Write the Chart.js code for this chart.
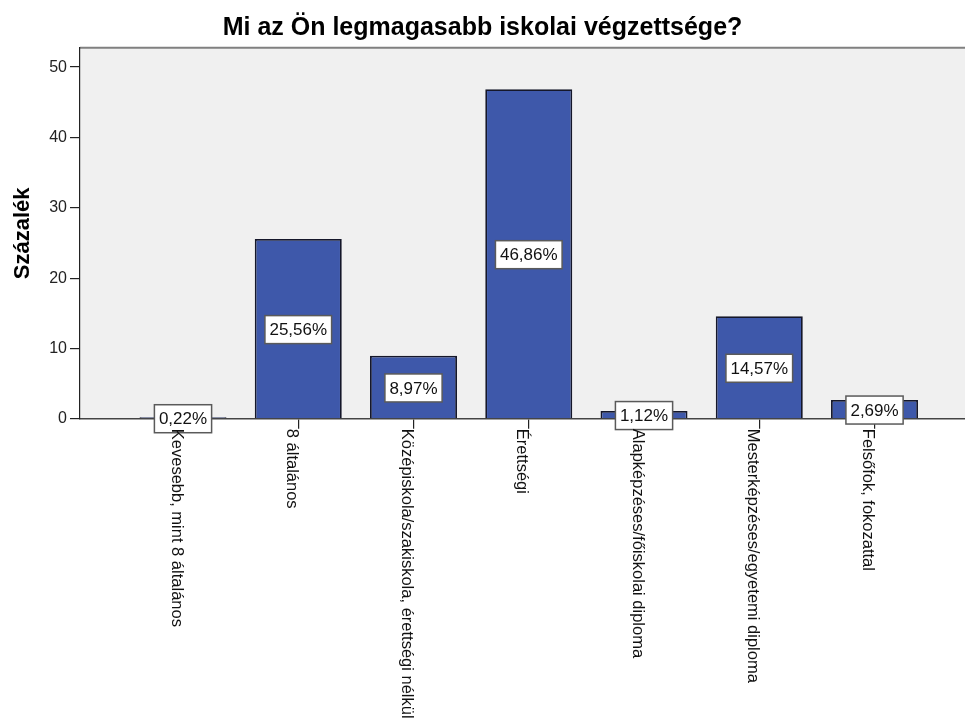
<!DOCTYPE html>
<html>
<head>
<meta charset="utf-8">
<title>Iskolai végzettség</title>
<script src="https://cdn.jsdelivr.net/npm/chart.js@4.4.1/dist/chart.umd.min.js"></script>
<style>
    html, body { margin: 0; padding: 0; background: #fff; }
    #reportChart { display: block; }
</style>
</head>
<body>
<canvas id="reportChart" width="965" height="724"></canvas>
<script>
var title = 'Mi az Ön legmagasabb iskolai végzettsége?';
var yTitle = 'Százalék';

var categories = [
    'Kevesebb, mint 8 általános',
    '8 általános',
    'Középiskola/szakiskola, érettségi nélkül',
    'Érettségi',
    'Alapképzéses/főiskolai diploma',
    'Mesterképzéses/egyetemi diploma',
    'Felsőfok, fokozattal'
];
var percents = [0.22, 25.56, 8.97, 46.86, 1.12, 14.57, 2.69];
var yTicks = [0, 10, 20, 30, 40, 50];

var FONT = "'Liberation Sans', Arial, sans-serif";
Chart.defaults.font.family = FONT;
Chart.defaults.color = '#111';

// háttér + felső keret a rajzterületen
var plotBackground = {
    id: 'plotBackground',
    beforeDraw: function (chart) {
        var a = chart.chartArea, ctx = chart.ctx;
        ctx.save();
        ctx.fillStyle = '#f0f0f0';
        ctx.fillRect(a.left, a.top, a.right - a.left, a.bottom - a.top);
        ctx.strokeStyle = '#808080';
        ctx.lineWidth = 2;
        ctx.beginPath();
        ctx.moveTo(a.left, a.top);
        ctx.lineTo(a.right, a.top);
        ctx.stroke();
        ctx.restore();
    }
};

// százalék címkék fehér dobozban az oszlop közepén
var valueBoxes = {
    id: 'valueBoxes',
    afterDatasetsDraw: function (chart) {
        var ctx = chart.ctx;
        var meta = chart.getDatasetMeta(0);
        ctx.save();
        ctx.font = '17px ' + FONT;
        ctx.textAlign = 'center';
        ctx.textBaseline = 'middle';
        for (var i = 0; i < meta.data.length; i++) {
            var bar = meta.data[i];
            var txt = percents[i].toFixed(2).replace('.', ',') + '%';
            var w = ctx.measureText(txt).width + 9;
            var h = 28;
            var cy = (bar.y + bar.base) / 2 + 1;
            ctx.fillStyle = '#fff';
            ctx.fillRect(bar.x - w / 2, cy - h / 2, w, h);
            ctx.strokeStyle = '#5a5a5a';
            ctx.lineWidth = 1.5;
            ctx.strokeRect(bar.x - w / 2, cy - h / 2, w, h);
            ctx.fillStyle = '#111';
            ctx.fillText(txt, bar.x, cy + 1);
        }
        ctx.restore();
    }
};

// kategória feliratok, 90 fokkal elforgatva (fentről lefelé olvasva)
var categoryLabels = {
    id: 'categoryLabels',
    afterDraw: function (chart) {
        var ctx = chart.ctx;
        var xs = chart.scales.x;
        var top = chart.chartArea.bottom + 10;
        ctx.save();
        ctx.font = '16.5px ' + FONT;
        ctx.fillStyle = '#111';
        ctx.textAlign = 'left';
        ctx.textBaseline = 'alphabetic';
        for (var i = 0; i < categories.length; i++) {
            var x = xs.getPixelForValue(i);
            ctx.save();
            ctx.translate(x, top);
            ctx.rotate(Math.PI / 2);
            ctx.fillText(categories[i], 0, 11.5);
            ctx.restore();
        }
        ctx.restore();
    }
};

function RenderReport() {
    var points = [];
    for (var i = 0; i < percents.length; i++) {
        points.push({ x: i, y: percents[i] });
    }

    var ctx = document.getElementById('reportChart').getContext('2d');
    new Chart(ctx, {
        type: 'bar',
        data: {
            datasets: [{
                label: yTitle,
                data: points,
                backgroundColor: '#3e58aa',
                borderColor: '#15172a',
                borderWidth: 1.8,
                barPercentage: 0.755,
                categoryPercentage: 1
            }]
        },
        options: {
            responsive: false,
            animation: false,
            devicePixelRatio: 1,
            layout: { padding: 0 },
            plugins: {
                legend: { display: false },
                tooltip: { enabled: false },
                title: {
                    display: true,
                    text: title,
                    color: '#000',
                    font: { size: 25, weight: 'bold', lineHeight: 1.15 },
                    padding: { top: 14, bottom: 5 }
                }
            },
            scales: {
                x: {
                    type: 'linear',
                    min: -0.8937,
                    max: 6.785,
                    offset: false,
                    grid: {
                        offset: false,
                        drawOnChartArea: false,
                        drawTicks: true,
                        tickLength: 10,
                        color: '#222',
                        lineWidth: 1.2
                    },
                    border: { color: '#444', width: 1.5 },
                    ticks: {
                        callback: function () { return ''; },
                        maxRotation: 0
                    },
                    afterBuildTicks: function (scale) {
                        scale.ticks = categories.map(function (c, i) { return { value: i }; });
                    },
                    afterFit: function (scale) {
                        scale.height = 724 - 418.8;
                    }
                },
                y: {
                    min: 0,
                    max: 52.75,
                    grid: {
                        drawOnChartArea: false,
                        drawTicks: true,
                        tickLength: 10,
                        color: '#222',
                        lineWidth: 1.2
                    },
                    border: { color: '#222', width: 1.2 },
                    ticks: {
                        stepSize: 10,
                        includeBounds: false,
                        padding: 3,
                        color: '#222',
                        font: { size: 16 }
                    },
                    afterBuildTicks: function (scale) {
                        scale.ticks = yTicks.map(function (v) { return { value: v }; });
                    },
                    title: {
                        display: true,
                        text: yTitle,
                        color: '#000',
                        font: { size: 22, weight: 'bold', lineHeight: 1.2 },
                        padding: { top: 10, bottom: 0 }
                    },
                    afterFit: function (scale) {
                        scale.width = 80;
                    }
                }
            }
        },
        plugins: [plotBackground, valueBoxes, categoryLabels]
    });
}

RenderReport();
</script>
</body>
</html>
